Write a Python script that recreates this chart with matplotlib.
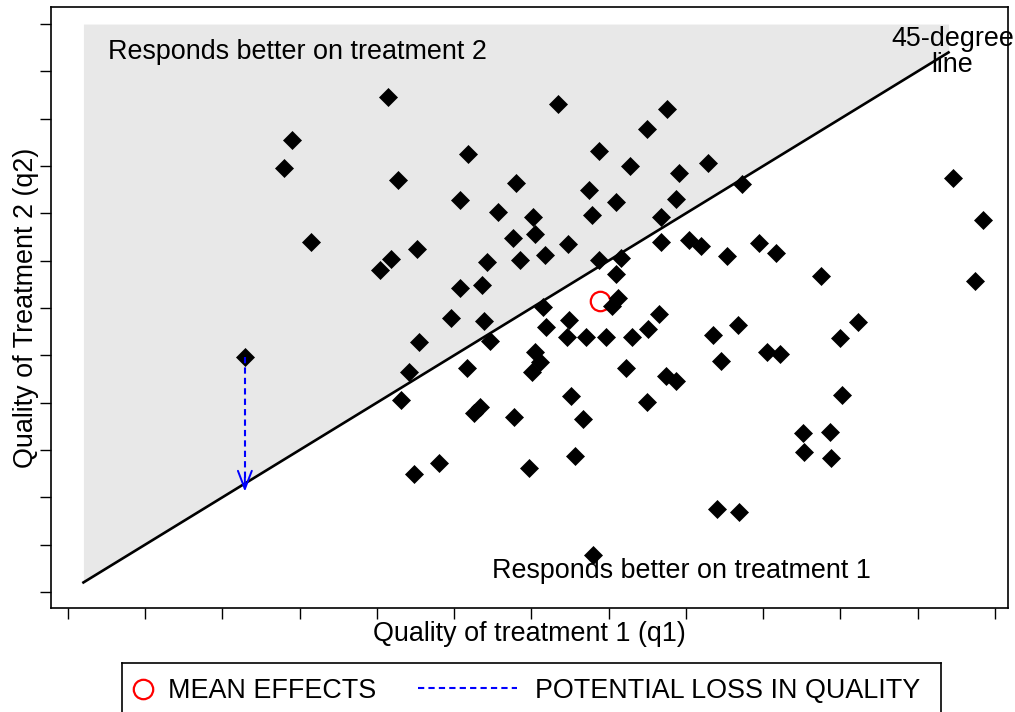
import matplotlib.pyplot as plt

plt.rcParams['font.family'] = ['Liberation Sans', 'DejaVu Sans']

# quality under treatment 1 (x) and treatment 2 (y)
q1 = [4.14, 2.90, 2.80, 5.18, 4.27, 5.80, 5.07, 5.57, 6.02, 5.76,
      6.05, 3.15, 4.52, 4.18, 4.04, 5.85, 5.43, 5.36, 5.07, 4.96,
      5.39, 6.34, 7.75, 7.50, 6.87, 7.27, 8.29, 7.91, 6.75, 7.10,
      7.87, 8.72, 6.79, 7.68, 6.47, 6.18, 6.88, 7.16, 7.68, 8.04,
      8.19, 8.53, 8.95, 9.16, 7.09, 9.75, 7.04, 7.12, 6.15, 6.19,
      6.49, 6.46, 6.71, 6.96, 7.30, 7.51, 7.65, 8.35, 8.68, 8.45,
      9.05, 9.22, 10.00, 10.23, 6.05, 6.11, 6.01, 7.22, 7.74, 7.87,
      6.51, 7.49, 6.67, 6.57, 5.97, 10.02, 9.51, 9.86, 9.53, 9.88,
      8.40, 8.69, 6.80, 11.46, 11.84, 11.74, 2.29, 4.54, 5.47, 4.41,
      5.17, 4.31, 5.34, 5.25, 5.77, 4.80, 4.48]
q2 = [10.45, 9.55, 8.96, 9.25, 8.70, 8.65, 8.29, 8.03, 7.92, 7.48,
      7.56, 7.39, 7.25, 7.04, 6.80, 7.01, 6.98, 6.49, 6.42, 5.79,
      5.73, 10.30, 10.21, 9.78, 9.32, 9.01, 9.06, 8.86, 8.49, 8.23,
      8.30, 8.62, 7.97, 7.93, 7.36, 7.11, 7.01, 7.06, 7.40, 7.44,
      7.30, 7.10, 7.38, 7.16, 6.72, 6.68, 6.04, 6.21, 6.03, 5.60,
      5.75, 5.39, 5.38, 5.39, 5.38, 5.55, 5.87, 5.43, 5.64, 4.89,
      5.06, 5.03, 5.37, 5.70, 5.06, 4.85, 4.65, 4.73, 4.57, 4.46,
      4.14, 4.01, 3.65, 2.87, 2.61, 4.17, 3.35, 3.37, 2.96, 2.82,
      1.75, 1.68, 0.78, 8.75, 7.86, 6.58, 4.97, 5.29, 5.31, 4.64,
      4.73, 4.06, 3.90, 3.78, 3.69, 2.72, 2.49]

mean_q1 = 6.89
mean_q2 = 6.14

# one patient: drop from q2 down to the line
loss_q1 = 2.29
loss_from = 4.97
loss_to = 2.12

diag = [0.2, 11.4]
shade_top = 12.0
ticks = list(range(13))

FS = 19.4

W, H = 1015, 712
fig = plt.figure(figsize=(W / 100, H / 100), dpi=100)
ax = fig.add_axes([51 / W, 1 - 608 / H, (1008 - 51) / W, (608 - 7) / H])

ax.fill_between(diag, diag, shade_top, color='#e8e8e8', lw=0, zorder=0)
ax.plot(mean_q1, mean_q2, 'o', ms=14, mfc='none', mec='red', mew=1.6, zorder=2)
ax.plot(q1, q2, 'D', color='black', ms=9.5, mew=0.5, zorder=3)
ax.plot(diag, diag, color='black', lw=1.9, zorder=4)

ax.plot([loss_q1, loss_q1], [loss_from, loss_to + 0.05], color='blue',
        ls=(0, (3, 2)), lw=1.5, zorder=4)
ax.annotate('', xy=(loss_q1, loss_to), xytext=(loss_q1, loss_to + 0.3),
            arrowprops=dict(arrowstyle='->,head_length=0.65,head_width=0.25',
                            color='blue', lw=1.4, mutation_scale=20,
                            shrinkA=0, shrinkB=0), zorder=4)

ax.text(0.52, 11.27, 'Responds better on treatment 2', fontsize=FS,
        ha='left', va='baseline', zorder=5)
ax.text(5.49, 0.30, 'Responds better on treatment 1', fontsize=FS,
        ha='left', va='baseline', zorder=5)
ax.text(11.45, 10.99, '45-degree\nline', fontsize=FS, ha='center',
        va='baseline', linespacing=1.0, zorder=5)

ax.set_xlim(-0.22, 12.17)
ax.set_ylim(-0.34, 12.36)
ax.set_xticks(ticks)
ax.set_yticks(ticks)
ax.tick_params(direction='out', length=7.9, width=1,
               labelbottom=False, labelleft=False)
for s in ax.spines.values():
    s.set_linewidth(1.2)

ax.set_xlabel('Quality of treatment 1 (q1)', fontsize=FS, va='top')
ax.xaxis.set_label_coords(0.5, -0.0216)
ax.set_ylabel('Quality of Treatment 2 (q2)', fontsize=FS)
ax.yaxis.set_label_coords(-0.0125, 0.5)

# legend drawn as its own little boxed axes under the plot
lax = fig.add_axes([122 / W, 1 - 716 / H, 819 / W, 53 / H])
lax.set_xlim(0, 1)
lax.set_ylim(0, 1)
lax.set_xticks([])
lax.set_yticks([])
for s in lax.spines.values():
    s.set_linewidth(1.2)
lax.plot(0.0256, 0.51, 'o', ms=14, mfc='none', mec='red', mew=1.6)
lax.text(0.0562, 0.34, 'MEAN EFFECTS', fontsize=FS, va='baseline')
lax.plot([0.361, 0.482], [0.53, 0.53], color='blue', ls=(0, (3, 2)), lw=1.5)
lax.text(0.504, 0.34, 'POTENTIAL LOSS IN QUALITY', fontsize=FS, va='baseline')

fig.savefig('out.png', dpi=100)
